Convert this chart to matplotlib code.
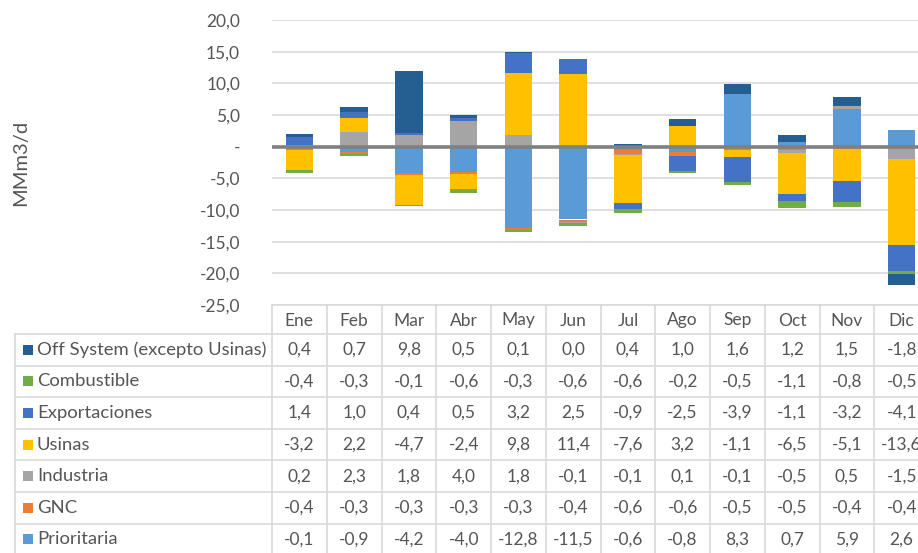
import matplotlib
matplotlib.use("Agg")
import matplotlib.pyplot as plt
import numpy as np
from matplotlib.patches import Rectangle

plt.rcParams['font.family'] = ['Lato', 'DejaVu Sans']

months = ["Ene", "Feb", "Mar", "Abr", "May", "Jun", "Jul", "Ago", "Sep", "Oct", "Nov", "Dic"]
off_system = [0.4, 0.7, 9.8, 0.5, 0.1, 0.0, 0.4, 1.0, 1.6, 1.2, 1.5, -1.8]
combustible = [-0.4, -0.3, -0.1, -0.6, -0.3, -0.6, -0.6, -0.2, -0.5, -1.1, -0.8, -0.5]
exportaciones = [1.4, 1.0, 0.4, 0.5, 3.2, 2.5, -0.9, -2.5, -3.9, -1.1, -3.2, -4.1]
usinas = [-3.2, 2.2, -4.7, -2.4, 9.8, 11.4, -7.6, 3.2, -1.1, -6.5, -5.1, -13.6]
industria = [0.2, 2.3, 1.8, 4.0, 1.8, -0.1, -0.1, 0.1, -0.1, -0.5, 0.5, -1.5]
gnc = [-0.4, -0.3, -0.3, -0.3, -0.3, -0.4, -0.6, -0.6, -0.5, -0.5, -0.4, -0.4]
prioritaria = [-0.1, -0.9, -4.2, -4.0, -12.8, -11.5, -0.6, -0.8, 8.3, 0.7, 5.9, 2.6]

# stacking (plot) order, bottom first
series_names = ["Prioritaria", "GNC", "Industria", "Usinas", "Exportaciones",
                "Combustible", "Off System (excepto Usinas)"]
series_values = [prioritaria, gnc, industria, usinas, exportaciones, combustible, off_system]
colors = ["#5B9BD5", "#ED7D31", "#A5A5A5", "#FFC000", "#4472C4", "#70AD47", "#255E91"]

yticks = [20, 15, 10, 5, 0, -5, -10, -15, -20, -25]
ytick_labels = ["20,0", "15,0", "10,0", "5,0", "-", "-5,0", "-10,0", "-15,0", "-20,0", "-25,0"]
ylabel = "MMm3/d"

W, H = 918, 553
text_color = "#555555"
grid_color = "#D9D9D9"

fig = plt.figure(figsize=(W / 100, H / 100), dpi=100)

# ---- chart ----
ax_left, ax_right = 272, 929
ax_top, ax_bottom = 20, 305
ax = fig.add_axes([ax_left / W, 1 - ax_bottom / H, (ax_right - ax_left) / W, (ax_bottom - ax_top) / H])
x = np.arange(len(months))
pos = np.zeros(len(months))
neg = np.zeros(len(months))
for vals, c in zip(series_values, colors):
    v = np.array(vals, dtype=float)
    bottom = np.where(v >= 0, pos, neg)
    ax.bar(x, v, 0.5, bottom=bottom, color=c, zorder=2, linewidth=0)
    pos = pos + np.where(v >= 0, v, 0)
    neg = neg + np.where(v < 0, v, 0)

ax.set_xlim(-0.5, len(months) - 0.5)
ax.set_ylim(-25, 20)
ax.set_yticks(yticks)
ax.set_yticklabels(ytick_labels)
ax.set_xticks([])
ax.tick_params(axis='y', length=0, pad=23, labelsize=12.5, labelcolor=text_color)
for s in ax.spines.values():
    s.set_visible(False)
ax.yaxis.grid(True, color=grid_color, linewidth=1.2, zorder=0)
ax.set_axisbelow(True)
ax.axhline(0, color="#808080", linewidth=2.6, zorder=3)
fig.text(21 / W, 1 - 163 / H, ylabel, rotation=90, ha='center', va='center',
         fontsize=14.5, color=text_color)

# ---- data table ----
colw = (ax_right - ax_left) / len(months)
x0 = -0.5 - ax_left / colw
tax = fig.add_axes([0, 0, 1, 1])
tax.set_xlim(x0, x0 + W / colw)
tax.set_ylim(H, 0)
tax.axis('off')

head_top, head_bot = 305, 334
row_h = 31.6
label_left = x0 + 15 / colw
n_rows = len(series_names)
table_bottom = head_bot + n_rows * row_h
line_kw = dict(color=grid_color, linewidth=1.2, clip_on=False)

tax.plot([-0.5, len(months) - 0.5], [head_top, head_top], **line_kw)
for k in range(n_rows + 1):
    yy = head_bot + k * row_h
    tax.plot([label_left, len(months) - 0.5], [yy, yy], **line_kw)
for k in range(len(months) + 1):
    tax.plot([k - 0.5, k - 0.5], [head_top, table_bottom], **line_kw)
tax.plot([label_left, label_left], [head_bot, table_bottom], **line_kw)

for i, m in enumerate(months):
    tax.text(i, (head_top + head_bot) / 2 + 1, m, ha='center', va='center',
             fontsize=12.5, color=text_color)

table_order = list(range(n_rows))[::-1]
for j, si in enumerate(table_order):
    yc = head_bot + (j + 0.5) * row_h
    sq = 10
    tax.add_patch(Rectangle((x0 + 23 / colw, yc - sq / 2), sq / colw, sq,
                            color=colors[si], linewidth=0))
    tax.text(x0 + 37 / colw, yc, series_names[si], ha='left', va='center',
             fontsize=13.3, color=text_color)
    for i, v in enumerate(series_values[si]):
        tax.text(i, yc, f"{v:.1f}".replace('.', ','), ha='center', va='center',
                 fontsize=12.5, color=text_color)

fig.savefig("out.png", dpi=100)
